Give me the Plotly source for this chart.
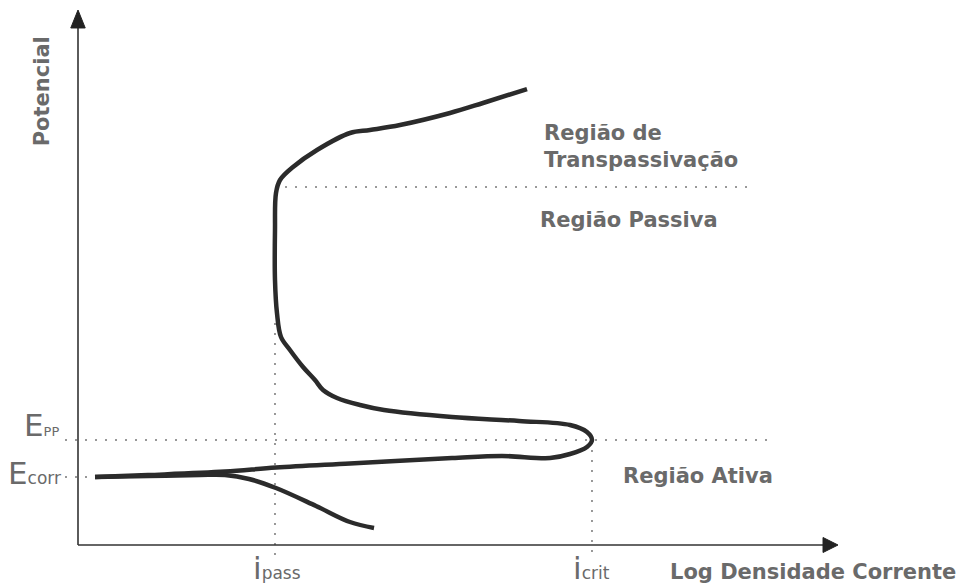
import plotly.graph_objects as go

# Anodic polarization curve (log current density vs potential, arbitrary units)
anodic_logi = [59.08, 53.29, 48.95, 42.37, 38.42, 35.79, 31.45, 28.29, 26.58, 26.05,
               25.92, 25.92, 26.18, 26.71, 27.89, 29.61, 31.18, 32.24, 34.08, 37.11,
               40.26, 49.21, 58.03, 64.74, 66.97, 67.63, 66.97, 64.74, 62.11, 55.79,
               49.21, 35.79, 26.05, 19.34, 9.21, 2.24]
anodic_pot = [85.23, 82.62, 80.75, 78.50, 77.57, 77.01, 73.83, 70.65, 68.22, 65.79,
              58.88, 49.53, 43.36, 38.88, 36.45, 33.27, 30.84, 28.97, 27.48, 26.17,
              25.23, 23.93, 23.18, 22.43, 21.12, 19.63, 18.32, 17.01, 16.26, 16.64,
              16.26, 15.23, 14.47, 13.72, 13.08, 12.71]

# Cathodic branch starting at the corrosion potential
cathodic_logi = [2.24, 9.21, 16.05, 19.34, 22.50, 26.05, 31.32, 35.79, 38.95]
cathodic_pot = [12.71, 12.90, 13.08, 13.08, 12.34, 10.65, 7.29, 4.30, 3.18]

# Characteristic values
E_PP = 19.63
E_CORR = 12.71
E_TRANS = 66.92
I_PASS = 25.92
I_CRIT = 67.63

AXIS_MAX = 100.0
X_RANGE = [-10.263, 116.71]
Y_RANGE = [-8.037, 101.87]

INK = "#2b2b2b"
GREY = "#6a6a6a"
DOT = "#777777"
FONT = "DejaVu Sans"

fig = go.Figure()

for xs, ys in [(anodic_logi, anodic_pot), (cathodic_logi, cathodic_pot)]:
    fig.add_trace(go.Scatter(
        x=xs, y=ys, mode="lines",
        line=dict(color=INK, width=4.5, shape="spline", smoothing=1.0),
        hoverinfo="skip", showlegend=False,
    ))

dotted = dict(color=DOT, width=1.5, dash="2px,8px")
ref_lines = [
    (-1.71, E_PP, 91.05, E_PP),          # passivation potential
    (-1.71, E_CORR, 1.58, E_CORR),       # corrosion potential
    (27.24, E_TRANS, 88.42, E_TRANS),    # transpassive limit
    (I_PASS, 41.5, I_PASS, -1.87),       # passive current
    (I_CRIT, E_PP, I_CRIT, -1.87),       # critical current
]
for x0, y0, x1, y1 in ref_lines:
    fig.add_shape(type="line", x0=x0, y0=y0, x1=x1, y1=y1,
                  xref="x", yref="y", line=dotted, layer="below")

# Axes with arrowheads
axis_line = dict(color="#333333", width=1.6)
fig.add_shape(type="line", x0=0, y0=0, x1=AXIS_MAX - 1.5, y1=0, line=axis_line)
fig.add_shape(type="line", x0=0, y0=0, x1=0, y1=AXIS_MAX - 2.5, line=axis_line)
hx, hy = 1.97, 1.4     # x-arrow head length / half-height
vx, vy = 0.95, 3.36    # y-arrow head half-width / length
fig.add_shape(type="path",
              path=f"M {AXIS_MAX - hx},{hy} L {AXIS_MAX},0 L {AXIS_MAX - hx},{-hy} Z",
              fillcolor="#222222", line=dict(color="#222222", width=1))
fig.add_shape(type="path",
              path=f"M {-vx},{AXIS_MAX - vy} L 0,{AXIS_MAX} L {vx},{AXIS_MAX - vy} Z",
              fillcolor="#222222", line=dict(color="#222222", width=1))

def label(text, x, y, xanchor="left", yanchor="middle", size=21, angle=0):
    fig.add_annotation(x=x, y=y, text=text, showarrow=False, xanchor=xanchor,
                       yanchor=yanchor, textangle=angle, align="left",
                       font=dict(family=FONT, size=size, color=GREY))

label("<b>Região de</b><br><b>Transpassivação</b>", 61.0, 74.4)
label("<b>Região Passiva</b>", 60.5, 60.75)
label("<b>Região Ativa</b>", 71.4, 12.9)
label("<b>Log Densidade Corrente</b>", 77.6, -5.05)
label("<b>Potencial</b>", -4.74, 84.8, xanchor="center", angle=-90)

label("E<span style='font-size:13px'>PP</span>", -2.2, 22.4, xanchor="right", size=31)
label("E<span style='font-size:17px'>corr</span>", -2.0, 13.4, xanchor="right", size=31)
label("i<span style='font-size:17px'>pass</span>", 22.8, -4.3, size=31)
label("i<span style='font-size:17px'>crit</span>", 64.9, -4.3, size=31)

fig.update_layout(
    width=965, height=588,
    margin=dict(l=0, r=0, t=0, b=0),
    paper_bgcolor="white", plot_bgcolor="white",
    xaxis=dict(range=X_RANGE, visible=False, fixedrange=True),
    yaxis=dict(range=Y_RANGE, visible=False, fixedrange=True),
    showlegend=False,
)

fig.write_html("out.html")
